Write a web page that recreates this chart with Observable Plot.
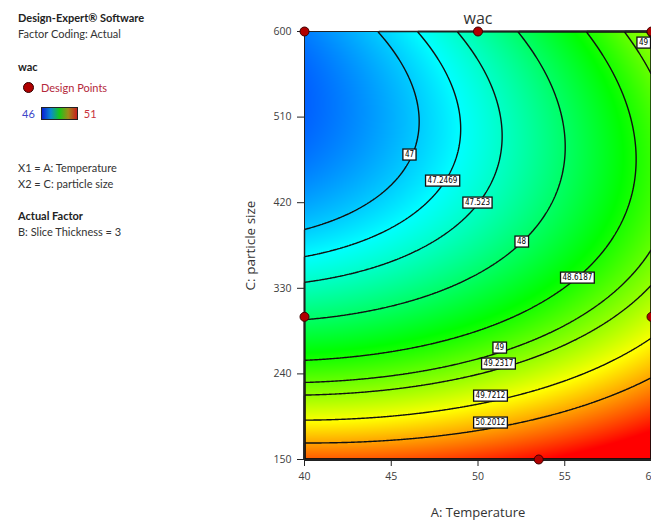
<!DOCTYPE html>
<html>
<head>
<meta charset="utf-8">
<script src="https://cdn.jsdelivr.net/npm/d3@7"></script>
<script src="https://cdn.jsdelivr.net/npm/@observablehq/plot@0.6"></script>
<style>
html, body { margin: 0; padding: 0; background: #fff; overflow: hidden; width: 651px; height: 522px; }
#wrap { position: relative; width: 651px; height: 522px; }
#chart { position: absolute; left: 0; top: 0; }
#side { position: absolute; left: 0; top: 0; font-family: Lato, "Open Sans", sans-serif; font-size: 11px; color: #333; }
#side div.l { position: absolute; left: 18px; line-height: 16px; white-space: nowrap; }
#side .b { font-weight: bold; color: #222; }
</style>
</head>
<body>
<div id="wrap">
  <div id="chart"></div>
  <div id="side">
    <div class="l b" style="top:10px">Design-Expert® Software</div>
    <div class="l" style="top:26px">Factor Coding: Actual</div>
    <div class="l b" style="top:59px">wac</div>
    <div class="l" style="top:80px;left:23px"><span style="display:inline-block;width:9px;height:9px;border-radius:50%;background:#b00000;border:1px solid #300;vertical-align:-1px"></span><span style="color:#b4283c;margin-left:7px">Design Points</span></div>
    <div class="l" style="top:106px;left:22px"><span style="color:#3c46c8">46</span><span style="display:inline-block;width:35px;height:11px;margin-left:6px;vertical-align:-2px;border:1px solid #222;background:linear-gradient(to right,#0a1ed2,#0a8ad2 25%,#18c818 50%,#a08a1a 75%,#c81e1e)"></span><span style="color:#c8323c;margin-left:6px">51</span></div>
    <div class="l" style="top:160px">X1 = A: Temperature</div>
    <div class="l" style="top:176px">X2 = C: particle size</div>
    <div class="l b" style="top:208px">Actual Factor</div>
    <div class="l" style="top:224px">B: Slice Thickness = 3</div>
  </div>
</div>
<script>
// Grid of wac values (rows: particle size, cols: temperature)
const tempGrid = [40, 50, 60];
const sizeGrid = [150, 375, 600];
const wacAt150 = [50.57, 50.78, 51.50];
const wacAt375 = [47.14, 47.77, 48.98];
const wacAt600 = [46.62, 47.68, 49.29];

const contourLevels = [47, 47.2469, 47.523, 48, 48.6187, 49, 49.2317, 49.7212, 50.2012];

const labelText = ["47", "47.2469", "47.523", "48", "48.6187", "49", "49", "49.2317", "49.7212", "50.2012"];
const labelTemp = [46.05, 47.95, 49.97, 52.51, 55.73, 59.54, 51.24, 51.18, 50.72, 50.72];
const labelSize = [470.7, 443.3, 420.2, 379.2, 341.3, 588.4, 267.7, 250.9, 217.2, 188.9];

const designTemp = [40, 50, 60, 40, 60, 53.5];
const designSize = [600, 600, 600, 300, 300, 150];

const xTicks = [40, 45, 50, 55, 60];
const yTicks = [150, 240, 330, 420, 510, 600];

const colorStops = [46, 47.25, 48.5, 49.75, 51];
const colorRange = ["#0000ff", "#00ffff", "#00ff00", "#ffff00", "#ff0000"];

const gridRows = [wacAt150, wacAt375, wacAt600];
function lagrangeWeights(nodes, v) {
  return nodes.map((ni, i) => nodes.reduce((p, nj, j) => j === i ? p : p * (v - nj) / (ni - nj), 1));
}
function wac(x, y) {
  const wx = lagrangeWeights(tempGrid, x), wy = lagrangeWeights(sizeGrid, y);
  let s = 0;
  for (let j = 0; j < 3; j++) for (let i = 0; i < 3; i++) s += wy[j] * wx[i] * gridRows[j][i];
  return s;
}

const chart = Plot.plot({
  width: 651,
  height: 522,
  marginLeft: 304,
  marginRight: 0,
  marginTop: 31,
  marginBottom: 63,
  style: { fontFamily: "'Open Sans', sans-serif", fontSize: "10.5px", color: "#404040", overflow: "visible", background: "transparent" },
  x: { domain: [40, 60] },
  y: { domain: [150, 600] },
  color: { type: "linear", domain: colorStops, range: colorRange, clamp: true },
  marks: [
    Plot.raster({ fill: wac, x1: 40, x2: 60, y1: 150, y2: 600, pixelSize: 1 }),
    Plot.contour({ value: wac, x1: 40, x2: 60, y1: 150, y2: 600, pixelSize: 1, thresholds: contourLevels, fill: "none", stroke: "#111", strokeWidth: 1.4 }),
    Plot.frame({ stroke: "#222", strokeWidth: 1 }),
    Plot.axisX({ ticks: xTicks, tickSize: 7, tickPadding: 6, label: null, stroke: "#222" }),
    Plot.axisY({ ticks: yTicks, tickSize: 7, tickPadding: 6, label: null, stroke: "#222" }),
    Plot.text(labelText, { x: (d, i) => labelTemp[i], y: (d, i) => labelSize[i], text: d => d, fontSize: 8, fontFamily: "'Liberation Sans Narrow', 'DejaVu Sans Condensed', sans-serif", fill: "#000" }),
    Plot.dot(designTemp, { x: d => d, y: (d, i) => designSize[i], r: 4.5, fill: "#b00000", stroke: "#3a0000", strokeWidth: 1 }),
    Plot.text(["A: Temperature"], { frameAnchor: "bottom", dy: 53, lineAnchor: "middle", fontSize: 13, fill: "#333" }),
    Plot.text(["C: particle size"], { frameAnchor: "left", dx: -54, rotate: -90, textAnchor: "middle", lineAnchor: "middle", fontSize: 13.5, fill: "#333" }),
    Plot.text(["wac"], { frameAnchor: "top", dy: -13, lineAnchor: "middle", fontSize: 16, fill: "#333" })
  ]
});
document.getElementById("chart").appendChild(chart);

// white boxes with black border behind contour labels
const labelSet = new Set(labelText);
d3.select(chart).selectAll("text").each(function () {
  if (!labelSet.has(this.textContent)) return;
  if (this.closest('g[aria-label*="axis"]')) return;
  const bb = this.getBBox();
  const r = document.createElementNS("http://www.w3.org/2000/svg", "rect");
  r.setAttribute("x", bb.x - 2);
  r.setAttribute("y", bb.y - 1);
  r.setAttribute("width", bb.width + 4);
  r.setAttribute("height", bb.height + 2);
  r.setAttribute("fill", "#fff");
  r.setAttribute("stroke", "#111");
  r.setAttribute("stroke-width", 1.3);
  const t = this.getAttribute("transform");
  if (t) r.setAttribute("transform", t);
  this.parentNode.insertBefore(r, this);
});
</script>
</body>
</html>
